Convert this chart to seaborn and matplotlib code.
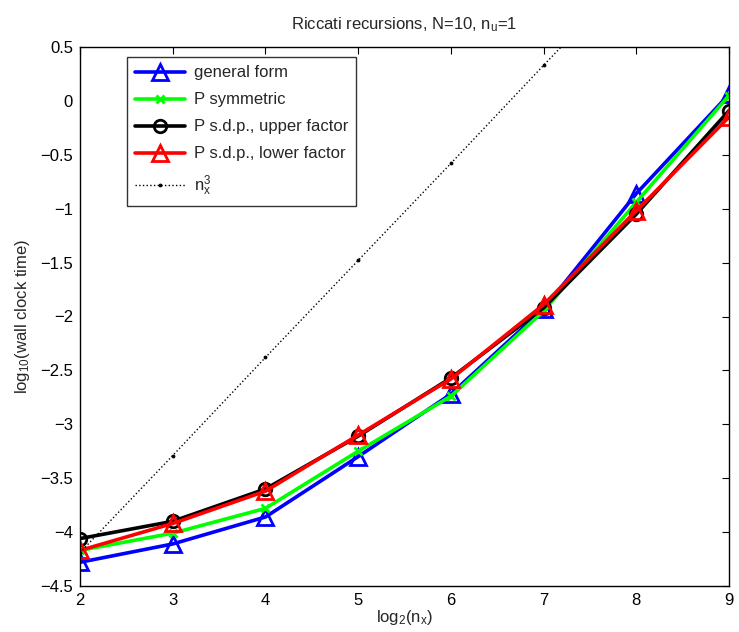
import matplotlib
matplotlib.use("Agg")
import matplotlib.pyplot as plt
import seaborn as sns
import pandas as pd

# ---- data ----
log2_nx = [2, 3, 4, 5, 6, 7, 8, 9]
general_form = [-4.28, -4.11, -3.86, -3.30, -2.72, -1.93, -0.86, 0.06]
p_symmetric = [-4.17, -4.01, -3.78, -3.25, -2.74, -1.95, -0.94, 0.05]
p_sdp_upper = [-4.06, -3.90, -3.60, -3.11, -2.57, -1.92, -1.05, -0.09]
p_sdp_lower = [-4.17, -3.92, -3.62, -3.10, -2.58, -1.89, -1.02, -0.15]
n_cubed = [-4.19, -3.29, -2.38, -1.48, -0.58, 0.33, 1.23, 2.13]

series_names = ["general form", "P symmetric", "P s.d.p., upper factor",
                "P s.d.p., lower factor"]
yticks = [-4.5, -4, -3.5, -3, -2.5, -2, -1.5, -1, -0.5, 0, 0.5]

sns.set_style("white")
plt.rcParams["font.family"] = ["Liberation Sans", "DejaVu Sans"]
plt.rcParams["mathtext.default"] = "regular"
FS = 12
plt.rcParams["font.size"] = FS

fig = plt.figure(figsize=(7.39, 6.32), dpi=100)
ax = fig.add_axes([80 / 739, 1 - 586 / 632, (729 - 80) / 739, (586 - 47) / 632])

styles = [
    dict(color="#0000ff", marker="^", markersize=11),
    dict(color="#00ff00", marker="x", markersize=6),
    dict(color="#000000", marker="o", markersize=9),
    dict(color="#ff0000", marker="^", markersize=11),
]
values = [general_form, p_symmetric, p_sdp_upper, p_sdp_lower]

for name, vals, st in zip(series_names, values, styles):
    df = pd.DataFrame({"x": log2_nx, "y": vals})
    sns.lineplot(data=df, x="x", y="y", ax=ax, color=st["color"],
                 marker=st["marker"], markersize=st["markersize"],
                 markerfacecolor="none", markeredgecolor=st["color"],
                 markeredgewidth=2, linewidth=2.6, label=name)

df3 = pd.DataFrame({"x": log2_nx, "y": n_cubed})
sns.lineplot(data=df3, x="x", y="y", ax=ax, color="black", linestyle=":",
             linewidth=1.0, marker=".", markersize=4, markeredgecolor="black",
             label="$n_x^3$")

ax.set_xlim(2, 9)
ax.set_ylim(-4.5, 0.5)
ax.set_xticks(log2_nx)
ax.set_yticks(yticks)
ax.set_yticklabels([("%g" % t).replace("-", "\u2212") for t in yticks])
ax.tick_params(direction="in", top=True, right=True, length=5, width=0.8,
               colors="black", labelsize=FS, pad=5)
for s in ax.spines.values():
    s.set_color("black")
    s.set_linewidth(1.0)

ax.set_xlabel("log$_2$(n$_x$)", fontsize=FS, labelpad=0)
ax.set_ylabel("log$_{10}$(wall clock time)", fontsize=FS, labelpad=6)
ax.set_title("Riccati recursions, N=10, n$_u$=1", fontsize=FS, pad=13)

leg = ax.legend(loc="upper left", bbox_to_anchor=(47 / 649, 1 - 10 / 539),
                frameon=True, fancybox=False, edgecolor="black",
                fontsize=FS, handlelength=3.0, labelspacing=0.72,
                borderpad=0.5, handletextpad=0.5, borderaxespad=0)
leg.get_frame().set_linewidth(1.0)

fig.savefig("out.png", dpi=100)
